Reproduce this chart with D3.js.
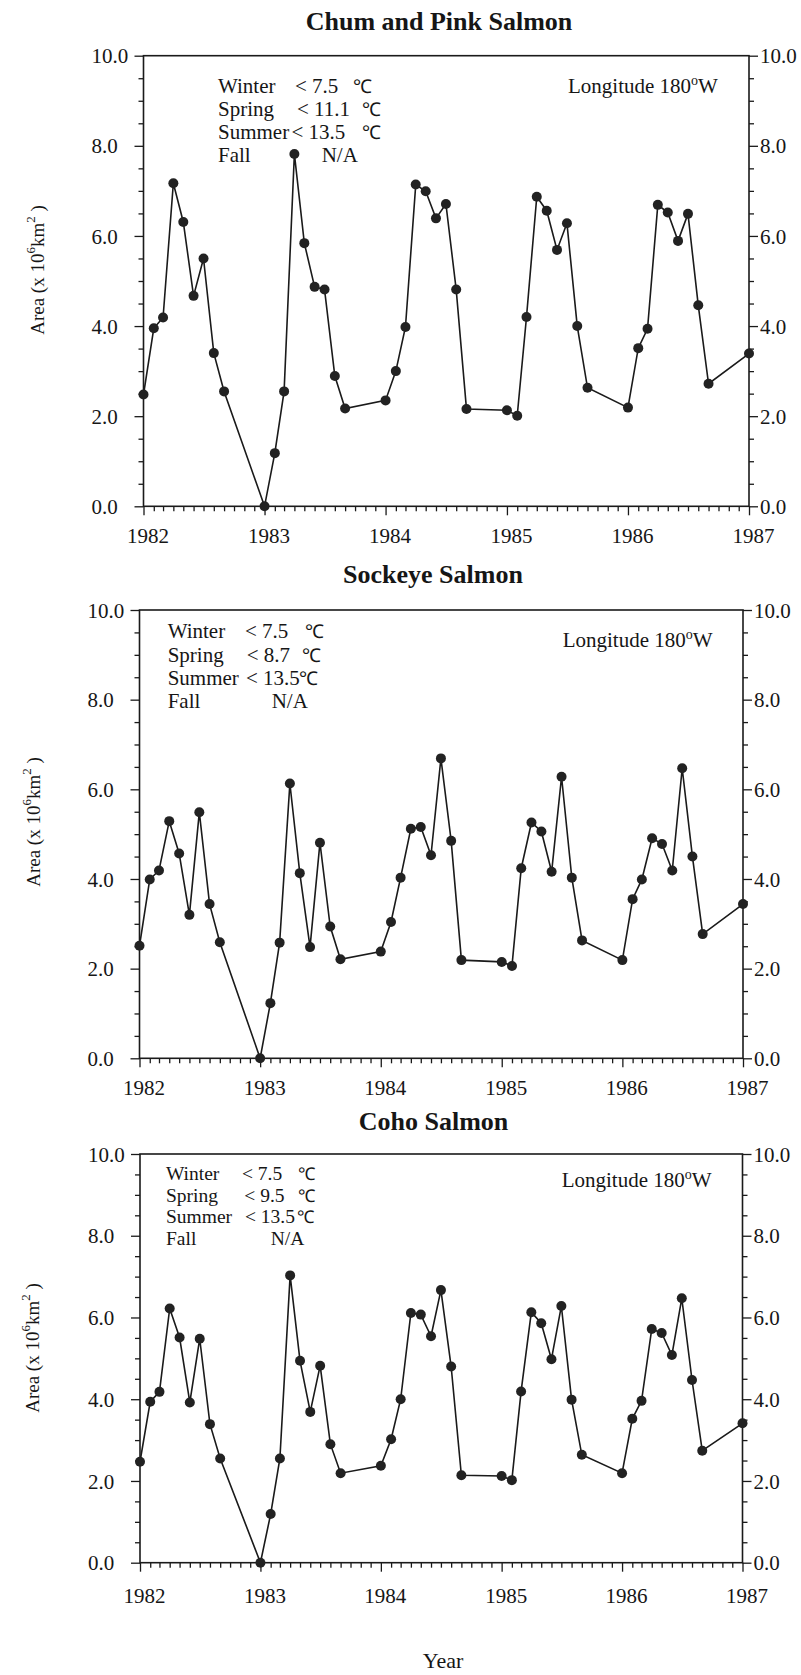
<!DOCTYPE html>
<html>
<head>
<meta charset="utf-8">
<script src="https://cdn.jsdelivr.net/npm/d3@7"></script>
<style>
  html, body { margin: 0; padding: 0; background: #fff; }
  svg { display: block; }
  svg text { font-family: "Liberation Serif", "Times New Roman", Times, serif !important; fill: #161616; }
</style>
</head>
<body>
<svg id="chart" width="801" height="1675" font-family="Liberation Serif, Times New Roman, serif"></svg>
<script>
// Monthly sampling: January through September of each year, plus January 1987
const months = [
  "1982-01","1982-02","1982-03","1982-04","1982-05","1982-06","1982-07","1982-08","1982-09",
  "1983-01","1983-02","1983-03","1983-04","1983-05","1983-06","1983-07","1983-08","1983-09",
  "1984-01","1984-02","1984-03","1984-04","1984-05","1984-06","1984-07","1984-08","1984-09",
  "1985-01","1985-02","1985-03","1985-04","1985-05","1985-06","1985-07","1985-08","1985-09",
  "1986-01","1986-02","1986-03","1986-04","1986-05","1986-06","1986-07","1986-08","1986-09",
  "1987-01"
];

// Area of suitable thermal habitat (x 10^6 km^2)
const chumPink = [
  2.48, 3.95, 4.19, 7.17, 6.31, 4.67, 5.50, 3.40, 2.55,
  0.00, 1.18, 2.55, 7.82, 5.84, 4.87, 4.81, 2.89, 2.17,
  2.35, 3.00, 3.98, 7.14, 6.99, 6.39, 6.71, 4.81, 2.16,
  2.13, 2.01, 4.20, 6.87, 6.56, 5.69, 6.28, 4.00, 2.63,
  2.19, 3.51, 3.94, 6.69, 6.52, 5.89, 6.49, 4.46, 2.72,
  3.39
];
const sockeye = [
  2.51, 3.99, 4.19, 5.29, 4.57, 3.20, 5.49, 3.44, 2.59,
  0.00, 1.23, 2.58, 6.13, 4.13, 2.48, 4.81, 2.94, 2.21,
  2.38, 3.04, 4.03, 5.12, 5.16, 4.53, 6.69, 4.85, 2.19,
  2.15, 2.06, 4.24, 5.26, 5.06, 4.16, 6.28, 4.03, 2.63,
  2.19, 3.55, 3.99, 4.91, 4.78, 4.19, 6.47, 4.50, 2.77,
  3.44
];
const coho = [
  2.47, 3.94, 4.18, 6.22, 5.51, 3.92, 5.48, 3.39, 2.55,
  0.00, 1.19, 2.55, 7.03, 4.94, 3.69, 4.82, 2.90, 2.19,
  2.37, 3.02, 4.00, 6.11, 6.07, 5.54, 6.67, 4.80, 2.14,
  2.12, 2.02, 4.19, 6.13, 5.86, 4.98, 6.28, 3.99, 2.64,
  2.19, 3.52, 3.96, 5.72, 5.62, 5.08, 6.47, 4.47, 2.74,
  3.41
];

const titles = ["Chum and Pink Salmon", "Sockeye Salmon", "Coho Salmon"];
const seasons = ["Winter", "Spring", "Summer", "Fall"];
const chumThresholds = ["< 7.5", "< 11.1", "< 13.5", "N/A"];
const sockeyeThresholds = ["< 7.5", "< 8.7", "< 13.5", "N/A"];
const cohoThresholds = ["< 7.5", "< 9.5", "< 13.5", "N/A"];
const yearTicks = ["1982", "1983", "1984", "1985", "1986", "1987"];
const areaTicks = [0, 2, 4, 6, 8, 10];
const areaMinorTicks = [0.5, 1, 1.5, 2.5, 3, 3.5, 4.5, 5, 5.5, 6.5, 7, 7.5, 8.5, 9, 9.5];

const FONT = "Liberation Serif, Times New Roman, serif";
const parseMonth = d3.timeParse("%Y-%m");
const parseYear = d3.timeParse("%Y");
const svg = d3.select("#chart");
const ink = "#1a1a1a";

// Frame, tick and annotation placement for each of the three stacked panels
const panels = [
  {
    title: titles[0], values: chumPink, thresholds: chumThresholds,
    left: 143.5, right: 749, top: 55.7, bottom: 506.3,
    titleX: 439, titleY: 30,
    ylabX: 44, ylabY: 270,
    noteSize: 21, seasonX: 218, rowY: [93.3, 116, 139, 161.7],
    valX: [295, 297, 291.5, 321.7], degX: [353, 362, 362, null],
    lonX: 568, lonY: 93.3, xLabDy: 37
  },
  {
    title: titles[1], values: sockeye, thresholds: sockeyeThresholds,
    left: 139.5, right: 743, top: 610, bottom: 1058.3,
    titleX: 433, titleY: 583,
    ylabX: 40, ylabY: 822,
    noteSize: 21, seasonX: 167.7, rowY: [638, 661.5, 684.5, 707.5],
    valX: [245, 246.7, 246, 271.7], degX: [305, 302, 299, null],
    lonX: 562.7, lonY: 647, xLabDy: 37
  },
  {
    title: titles[2], values: coho, thresholds: cohoThresholds,
    left: 140, right: 742.5, top: 1154, bottom: 1562.7,
    titleX: 433.5, titleY: 1130,
    ylabX: 39, ylabY: 1348,
    noteSize: 19.5, seasonX: 166, rowY: [1180, 1201.7, 1223.4, 1245.1],
    valX: [242, 244.3, 245, 270.7], degX: [298, 298, 297, null],
    lonX: 561.7, lonY: 1186.7, xLabDy: 40
  }
];

function styleAxis(sel) {
  sel.attr("font-family", FONT);
  sel.select(".domain").remove();
  sel.selectAll(".tick line").attr("stroke", ink).attr("stroke-width", 1.3);
}

function label(g, x, y, size, str) {
  return g.append("text")
    .attr("x", x).attr("y", y)
    .attr("font-family", FONT).attr("font-size", size)
    .text(str);
}

function drawPanel(p) {
  const x = d3.scaleTime()
    .domain([parseYear(yearTicks[0]), parseYear(yearTicks[yearTicks.length - 1])])
    .range([p.left, p.right]);
  const y = d3.scaleLinear().domain([0, 10]).range([p.bottom, p.top]);
  const g = svg.append("g");

  // Title
  label(g, p.titleX, p.titleY, 26, p.title)
    .attr("text-anchor", "middle").attr("font-weight", "bold");

  // Left axis: minor then major ticks with labels
  g.append("g").attr("transform", `translate(${p.left},0)`)
    .call(d3.axisLeft(y).tickValues(areaMinorTicks).tickSize(5).tickFormat(""))
    .call(styleAxis);
  const la = g.append("g").attr("transform", `translate(${p.left},0)`)
    .call(d3.axisLeft(y).tickValues(areaTicks).tickSize(9).tickFormat(d3.format(".1f")))
    .call(styleAxis);
  la.selectAll(".tick text")
    .attr("text-anchor", "start").attr("x", -52).attr("dy", "0.34em")
    .attr("font-size", 21).attr("font-family", FONT).attr("fill", "#161616");

  // Right axis
  g.append("g").attr("transform", `translate(${p.right},0)`)
    .call(d3.axisRight(y).tickValues(areaMinorTicks).tickSize(5).tickFormat(""))
    .call(styleAxis);
  const ra = g.append("g").attr("transform", `translate(${p.right},0)`)
    .call(d3.axisRight(y).tickValues(areaTicks).tickSize(9).tickFormat(d3.format(".1f")))
    .call(styleAxis);
  ra.selectAll(".tick text")
    .attr("x", 11).attr("dy", "0.34em")
    .attr("font-size", 21).attr("font-family", FONT).attr("fill", "#161616");

  // Bottom axis: monthly minor ticks, yearly major ticks
  const monthTicks = d3.timeMonth.range(x.domain()[0], x.domain()[1]).filter(d => d.getMonth() !== 0);
  g.append("g").attr("transform", `translate(0,${p.bottom})`)
    .call(d3.axisBottom(x).tickValues(monthTicks).tickSize(5).tickFormat(""))
    .call(styleAxis);
  const ba = g.append("g").attr("transform", `translate(0,${p.bottom})`)
    .call(d3.axisBottom(x).tickValues(yearTicks.map(parseYear)).tickSize(9).tickFormat(d3.timeFormat("%Y")))
    .call(styleAxis);
  ba.selectAll(".tick text")
    .attr("x", 4).attr("y", p.xLabDy).attr("dy", 0)
    .attr("font-size", 21).attr("font-family", FONT).attr("fill", "#161616");

  // Plot frame
  g.append("rect")
    .attr("x", p.left).attr("y", p.top)
    .attr("width", p.right - p.left).attr("height", p.bottom - p.top)
    .attr("fill", "none").attr("stroke", ink).attr("stroke-width", 1.6);

  // Y axis title, rotated
  const yl = g.append("text")
    .attr("transform", `translate(${p.ylabX},${p.ylabY}) rotate(-90)`)
    .attr("text-anchor", "middle")
    .attr("font-family", FONT).attr("font-size", 19);
  yl.append("tspan").text("Area (x 10");
  yl.append("tspan").attr("dy", -9).attr("font-size", 13).text("6");
  yl.append("tspan").attr("dy", 9).text("km");
  yl.append("tspan").attr("dy", -9).attr("font-size", 13).text("2");
  yl.append("tspan").attr("dy", 9).text(" )");

  // Season threshold notes
  seasons.forEach((s, i) => {
    label(g, p.seasonX, p.rowY[i], p.noteSize, s);
    label(g, p.valX[i], p.rowY[i], p.noteSize, p.thresholds[i]);
    if (p.degX[i] !== null) {
      label(g, p.degX[i], p.rowY[i], p.noteSize - 2, "\u2103");
    }
  });

  // Longitude note
  const lon = label(g, p.lonX, p.lonY, 21, null);
  lon.append("tspan").text("Longitude 180");
  lon.append("tspan").attr("dy", -8).attr("font-size", 14).text("o");
  lon.append("tspan").attr("dy", 8).text("W");

  // Series
  const pts = months.map((m, i) => ({ date: parseMonth(m), v: p.values[i] }));
  g.append("path")
    .datum(pts)
    .attr("fill", "none").attr("stroke", ink).attr("stroke-width", 1.6)
    .attr("d", d3.line().x(d => x(d.date)).y(d => y(d.v)));
  g.selectAll("circle.pt").data(pts).join("circle")
    .attr("class", "pt")
    .attr("cx", d => x(d.date)).attr("cy", d => y(d.v))
    .attr("r", 5).attr("fill", "#222");

  return { x, y };
}

panels.forEach(drawPanel);

// Shared x axis title under the last panel
label(svg, 443, 1668, 22, "Year").attr("text-anchor", "middle");
</script>
</body>
</html>
